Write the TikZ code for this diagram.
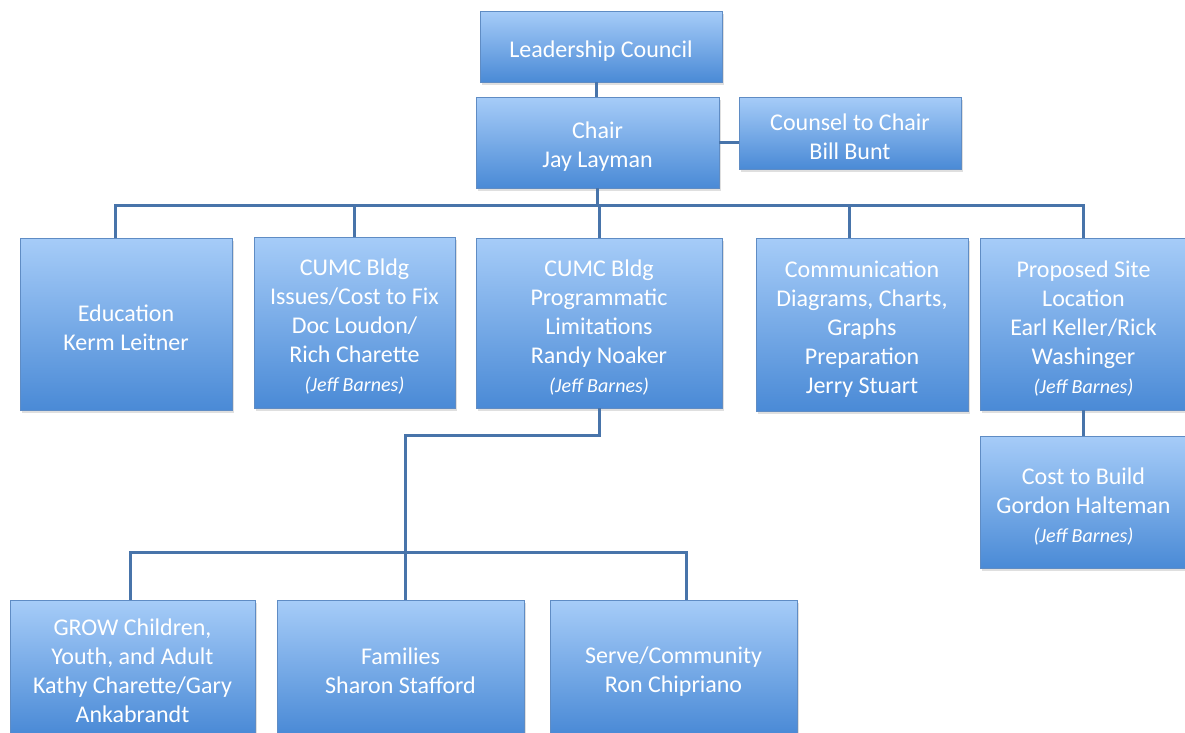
\documentclass[tikz,border=0pt]{standalone}
\usepackage{fontspec}
\setmainfont{Carlito}
\usetikzlibrary{shadows}
\definecolor{boxtop}{RGB}{166,204,248}
\definecolor{boxbot}{RGB}{74,138,214}
\definecolor{boxline}{RGB}{95,140,196}
\definecolor{wire}{RGB}{72,116,170}
\tikzset{
  orgbox/.style={draw=boxline, line width=0.8pt, top color=boxtop, bottom color=boxbot,
    text=white, align=center, inner sep=2pt,
    font=\fontsize{24}{29}\selectfont,
    drop shadow={opacity=0.25, shadow xshift=1.5pt, shadow yshift=-2.5pt}},
  wireline/.style={draw=wire, line width=3pt},
}
\newcommand{\up}{\rule{0pt}{25pt}}
\newcommand{\jb}{{\itshape\fontsize{20}{29}\selectfont(Jeff Barnes)}}
\begin{document}
\begin{tikzpicture}[x=1pt,y=-1pt]
\useasboundingbox (0,0) rectangle (1185,732);
\fill[white] (0,0) rectangle (1185,732);
\coordinate (bus) at (0,205);
\coordinate (bus2) at (0,552);
\coordinate (mid) at (0,435);
% boxes
\node[orgbox, minimum width=242pt, minimum height=71pt] (lc) at (601,46.5) {\up Leadership Council};
\node[orgbox, minimum width=243pt, minimum height=91pt] (chair) at (597.5,142.5) {\up Chair\\Jay Layman};
\node[orgbox, minimum width=222pt, minimum height=72pt] (counsel) at (850,133) {\up Counsel to Chair\\Bill Bunt};
\node[orgbox, minimum width=212pt, minimum height=172pt] (edu) at (126,324) {\up Education\\Kerm Leitner};
\node[orgbox, minimum width=201pt, minimum height=171pt] (issues) at (354.5,322.5) {\up CUMC Bldg\\Issues/Cost to Fix\\Doc Loudon/\\Rich Charette\\\jb};
\node[orgbox, minimum width=246pt, minimum height=170pt] (prog) at (599,323) {\up CUMC Bldg\\Programmatic\\Limitations\\Randy Noaker\\\jb};
\node[orgbox, minimum width=212pt, minimum height=173pt] (comm) at (862,324.5) {\up Communication\\Diagrams, Charts,\\Graphs\\Preparation\\Jerry Stuart};
\node[orgbox, minimum width=207pt, minimum height=172pt] (site) at (1083.5,324) {\up Proposed Site\\Location\\Earl Keller/Rick\\Washinger\\\jb};
\node[orgbox, minimum width=207pt, minimum height=132pt] (cost) at (1083.5,502) {\up Cost to Build\\Gordon Halteman\\\jb};
\node[orgbox, minimum width=245pt, minimum height=134pt] (grow) at (132.5,667) {\up GROW Children,\\Youth, and Adult\\Kathy Charette/Gary\\Ankabrandt};
\node[orgbox, minimum width=247pt, minimum height=134pt] (fam) at (400.5,667) {\up Families\\Sharon Stafford};
\node[orgbox, minimum width=247pt, minimum height=134pt] (serve) at (673.5,667) {\up Serve/Community\\Ron Chipriano};
% connectors
\coordinate (eduin) at ([xshift=-11pt]edu.north);
\coordinate (commin) at ([xshift=-13pt]comm.north);
\coordinate (famin) at ([xshift=4.5pt]fam.north);
\coordinate (growin) at ([xshift=-2.5pt]grow.north);
\coordinate (servein) at ([xshift=12.5pt]serve.north);
\draw[wireline] ([xshift=-5pt]lc.south) -- ([xshift=-1.5pt]chair.north);
\draw[wireline] (chair.east) -- (chair.east -| counsel.west);
\draw[wireline] (chair.south) -- (chair.south |- bus);
\draw[wireline] (eduin) -- (eduin |- bus) -- (site.north |- bus) -- (site.north);
\draw[wireline] (issues.north) -- (issues.north |- bus);
\draw[wireline] (prog.north) -- (prog.north |- bus);
\draw[wireline] (commin) -- (commin |- bus);
\draw[wireline] (site.south) -- (cost.north);
\draw[wireline] (prog.south) -- (prog.south |- mid) -- (famin |- mid) -- (famin);
\draw[wireline] (growin) -- (growin |- bus2) -- (servein |- bus2) -- (servein);
\end{tikzpicture}
\end{document}
